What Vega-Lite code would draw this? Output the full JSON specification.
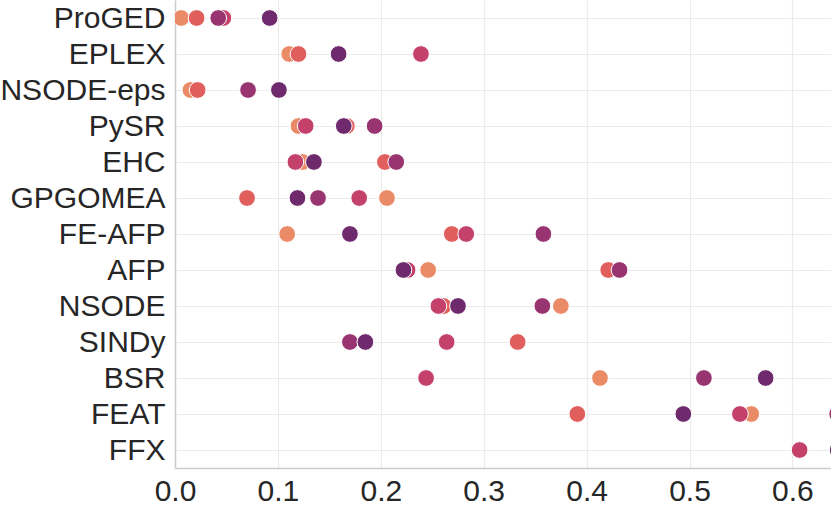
{
  "$schema": "https://vega.github.io/schema/vega-lite/v6.json",
  "autosize": "none",
  "width": 656,
  "height": 468,
  "padding": {"left": 175, "top": 0, "right": 0, "bottom": 39},
  "background": "white",
  "config": {
    "view": {"stroke": null},
    "font": "Liberation Sans",
    "axis": {
      "labelFont": "Liberation Sans",
      "labelFontSize": 30,
      "labelColor": "#262626",
      "gridColor": "#ebebeb",
      "gridWidth": 1.2,
      "domainColor": "#cccccc",
      "domainWidth": 1.5,
      "ticks": false,
      "title": null
    }
  },
  "data": {
    "values": [
      {"method": "ProGED", "group": "g1", "value": 0.006},
      {"method": "ProGED", "group": "g2", "value": 0.021},
      {"method": "ProGED", "group": "g3", "value": 0.047},
      {"method": "ProGED", "group": "g4", "value": 0.042},
      {"method": "ProGED", "group": "g5", "value": 0.092},
      {"method": "EPLEX", "group": "g1", "value": 0.111},
      {"method": "EPLEX", "group": "g2", "value": 0.120},
      {"method": "EPLEX", "group": "g5", "value": 0.159},
      {"method": "EPLEX", "group": "g3", "value": 0.239},
      {"method": "NSODE-eps", "group": "g1", "value": 0.015},
      {"method": "NSODE-eps", "group": "g2", "value": 0.022},
      {"method": "NSODE-eps", "group": "g4", "value": 0.071},
      {"method": "NSODE-eps", "group": "g5", "value": 0.101},
      {"method": "PySR", "group": "g1", "value": 0.120},
      {"method": "PySR", "group": "g3", "value": 0.127},
      {"method": "PySR", "group": "g2", "value": 0.167},
      {"method": "PySR", "group": "g5", "value": 0.164},
      {"method": "PySR", "group": "g4", "value": 0.194},
      {"method": "EHC", "group": "g1", "value": 0.124},
      {"method": "EHC", "group": "g3", "value": 0.117},
      {"method": "EHC", "group": "g5", "value": 0.135},
      {"method": "EHC", "group": "g2", "value": 0.204},
      {"method": "EHC", "group": "g4", "value": 0.215},
      {"method": "GPGOMEA", "group": "g2", "value": 0.070},
      {"method": "GPGOMEA", "group": "g5", "value": 0.119},
      {"method": "GPGOMEA", "group": "g4", "value": 0.139},
      {"method": "GPGOMEA", "group": "g3", "value": 0.179},
      {"method": "GPGOMEA", "group": "g1", "value": 0.206},
      {"method": "FE-AFP", "group": "g1", "value": 0.109},
      {"method": "FE-AFP", "group": "g5", "value": 0.170},
      {"method": "FE-AFP", "group": "g2", "value": 0.269},
      {"method": "FE-AFP", "group": "g3", "value": 0.283},
      {"method": "FE-AFP", "group": "g4", "value": 0.358},
      {"method": "AFP", "group": "g3", "value": 0.226},
      {"method": "AFP", "group": "g5", "value": 0.222},
      {"method": "AFP", "group": "g1", "value": 0.246},
      {"method": "AFP", "group": "g2", "value": 0.421},
      {"method": "AFP", "group": "g4", "value": 0.432},
      {"method": "NSODE", "group": "g2", "value": 0.261},
      {"method": "NSODE", "group": "g3", "value": 0.256},
      {"method": "NSODE", "group": "g5", "value": 0.275},
      {"method": "NSODE", "group": "g4", "value": 0.357},
      {"method": "NSODE", "group": "g1", "value": 0.375},
      {"method": "SINDy", "group": "g4", "value": 0.170},
      {"method": "SINDy", "group": "g5", "value": 0.185},
      {"method": "SINDy", "group": "g3", "value": 0.264},
      {"method": "SINDy", "group": "g2", "value": 0.333},
      {"method": "BSR", "group": "g3", "value": 0.244},
      {"method": "BSR", "group": "g1", "value": 0.413},
      {"method": "BSR", "group": "g4", "value": 0.514},
      {"method": "BSR", "group": "g5", "value": 0.574},
      {"method": "FEAT", "group": "g2", "value": 0.391},
      {"method": "FEAT", "group": "g5", "value": 0.494},
      {"method": "FEAT", "group": "g1", "value": 0.560},
      {"method": "FEAT", "group": "g3", "value": 0.549},
      {"method": "FEAT", "group": "g4", "value": 0.6435},
      {"method": "FFX", "group": "g3", "value": 0.607},
      {"method": "FFX", "group": "g5", "value": 0.644}
    ]
  },
  "mark": {"type": "circle", "size": 280, "opacity": 1, "stroke": "white", "strokeWidth": 1, "clip": true},
  "encoding": {
    "x": {
      "field": "value",
      "type": "quantitative",
      "scale": {"domain": [0, 0.6375], "nice": false, "zero": false},
      "axis": {"values": [0, 0.1, 0.2, 0.3, 0.4, 0.5, 0.6], "format": ".1f", "labelPadding": 8, "labelFlush": false}
    },
    "y": {
      "field": "method",
      "type": "nominal",
      "sort": ["ProGED", "EPLEX", "NSODE-eps", "PySR", "EHC", "GPGOMEA", "FE-AFP", "AFP", "NSODE", "SINDy", "BSR", "FEAT", "FFX"],
      "scale": {"type": "point", "padding": 0.5},
      "axis": {"labelPadding": 10, "grid": true}
    },
    "color": {
      "field": "group",
      "type": "nominal",
      "scale": {"domain": ["g1", "g2", "g3", "g4", "g5"], "range": ["#eb8a67", "#e05e5b", "#c3416a", "#983470", "#6e2a6c"]},
      "legend": null
    }
  }
}
